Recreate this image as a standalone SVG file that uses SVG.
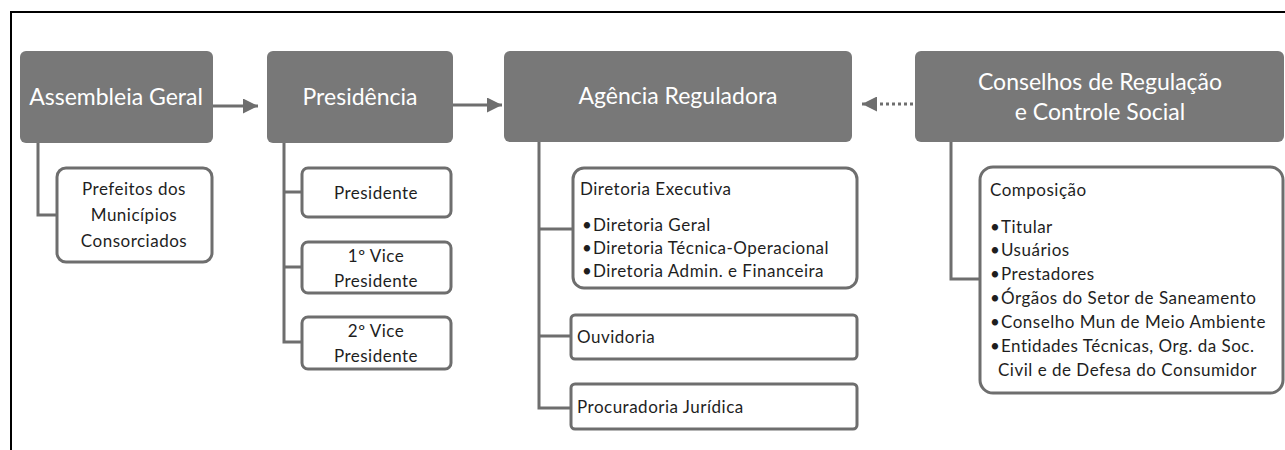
<svg xmlns="http://www.w3.org/2000/svg" width="1285" height="450" viewBox="0 0 1285 450">
<style>
.hdr{fill:#787878;}
.ht{fill:#fff;font-family:Lato,"Open Sans",sans-serif;font-size:23px;text-anchor:middle;}
.box{fill:#fff;stroke:#6e6e6e;stroke-width:3;}
.t{fill:#1e1e1e;font-family:Lato,"Open Sans",sans-serif;font-size:17px;letter-spacing:0.5px;}
.c{text-anchor:middle;}
.ln{fill:none;stroke:#6e6e6e;stroke-width:3;}
</style>
<defs>
<marker id="ah" viewBox="0 0 10 10" refX="10" refY="5" markerWidth="5" markerHeight="5" orient="auto" markerUnits="strokeWidth">
<path d="M0,0 L10,5 L0,10 z" fill="#6e6e6e"/>
</marker>
</defs>
<rect width="1285" height="450" fill="#fff"/>
<path d="M11,450 V12 H1285" fill="none" stroke="#000" stroke-width="2"/>

<g id="connectors">
<line class="ln" x1="213" y1="106" x2="258" y2="106" marker-end="url(#ah)"/>
<line class="ln" x1="453" y1="105" x2="502" y2="105" marker-end="url(#ah)"/>
<line class="ln" x1="913" y1="104" x2="862" y2="104" stroke-dasharray="3,3" marker-end="url(#ah)"/>
<path class="ln" d="M38,143 V215 H57"/>
<path class="ln" d="M284,143 V342 H302 M284,192 H302 M284,267 H302"/>
<path class="ln" d="M539,142 V408 H571 M539,229 H573 M539,336 H571"/>
<path class="ln" d="M951,142 V279 H980"/>
</g>

<g id="assembleia">
<rect class="hdr" x="20" y="51" width="193" height="92" rx="6"/>
<text class="ht" x="116" y="105">Assembleia Geral</text>
</g>
<g id="prefeitos">
<rect class="box" x="57" y="168" width="155" height="94" rx="9"/>
<text class="t c" x="134" y="195">Prefeitos dos</text>
<text class="t c" x="134" y="221">Municípios</text>
<text class="t c" x="134" y="247">Consorciados</text>
</g>

<g id="presidencia">
<rect class="hdr" x="267" y="51" width="186" height="92" rx="6"/>
<text class="ht" x="360" y="105">Presidência</text>
</g>
<g id="presidente">
<rect class="box" x="302" y="168" width="149" height="49" rx="6"/>
<text class="t c" x="376" y="199">Presidente</text>
</g>
<g id="vice1">
<rect class="box" x="302" y="242" width="149" height="51" rx="6"/>
<text class="t c" x="376" y="262">1º Vice</text>
<text class="t c" x="376" y="287">Presidente</text>
</g>
<g id="vice2">
<rect class="box" x="302" y="317" width="149" height="52" rx="6"/>
<text class="t c" x="376" y="337">2º Vice</text>
<text class="t c" x="376" y="362">Presidente</text>
</g>

<g id="agencia">
<rect class="hdr" x="504" y="51" width="348" height="91" rx="6"/>
<text class="ht" x="678" y="104">Agência Reguladora</text>
</g>
<g id="diretoria">
<rect class="box" x="573" y="168" width="284" height="120" rx="11"/>
<text class="t" x="580" y="195">Diretoria Executiva</text>
<text class="t" x="582" y="231">•</text><text class="t" x="593" y="231">Diretoria Geral</text>
<text class="t" x="582" y="254">•</text><text class="t" x="593" y="254">Diretoria Técnica-Operacional</text>
<text class="t" x="582" y="277">•</text><text class="t" x="593" y="277">Diretoria Admin. e Financeira</text>
</g>
<g id="ouvidoria">
<rect class="box" x="571" y="315" width="286" height="44" rx="4"/>
<text class="t" x="577" y="343">Ouvidoria</text>
</g>
<g id="procuradoria">
<rect class="box" x="571" y="384" width="286" height="45" rx="4"/>
<text class="t" x="577" y="413">Procuradoria Jurídica</text>
</g>

<g id="conselhos">
<rect class="hdr" x="915" y="51" width="369" height="91" rx="6"/>
<text class="ht" x="1100" y="90">Conselhos de Regulação</text>
<text class="ht" x="1100" y="120">e Controle Social</text>
</g>
<g id="composicao">
<rect class="box" x="980" y="167" width="303" height="226" rx="13"/>
<text class="t" x="990" y="196">Composição</text>
<text class="t" x="990" y="233">•</text><text class="t" x="1001" y="233">Titular</text>
<text class="t" x="990" y="256">•</text><text class="t" x="1001" y="256">Usuários</text>
<text class="t" x="990" y="280">•</text><text class="t" x="1001" y="280">Prestadores</text>
<text class="t" x="990" y="304">•</text><text class="t" x="1001" y="304">Órgãos do Setor de Saneamento</text>
<text class="t" x="990" y="328">•</text><text class="t" x="1001" y="328">Conselho Mun de Meio Ambiente</text>
<text class="t" x="990" y="352">•</text><text class="t" x="1001" y="352">Entidades Técnicas, Org. da Soc.</text>
<text class="t" x="998" y="376">Civil e de Defesa do Consumidor</text>
</g>
</svg>
